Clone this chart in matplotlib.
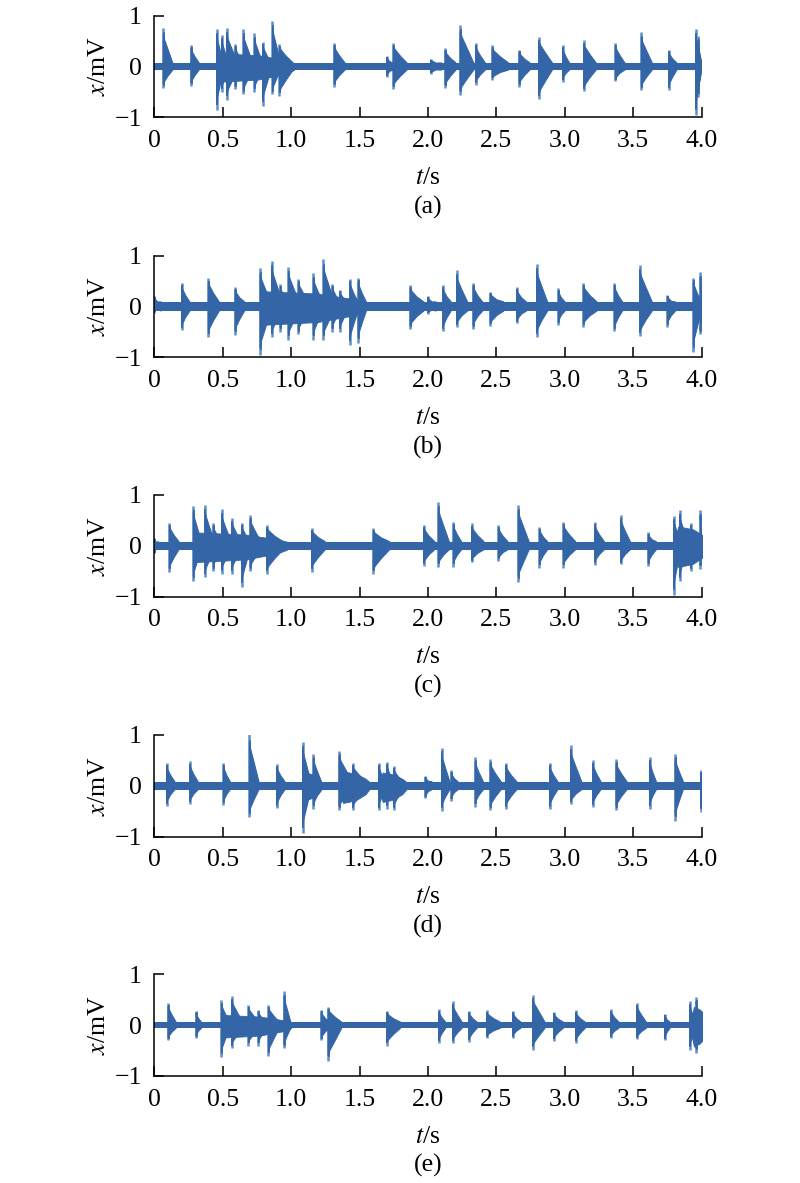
import matplotlib
matplotlib.use("Agg")
import matplotlib.pyplot as plt

plt.rcParams['font.family'] = ['Liberation Serif', 'DejaVu Serif']
plt.rcParams['mathtext.fontset'] = 'stix'

# burst onsets (s), peak top / bottom (mV), decay length (s)
a_t = [0.065, 0.268, 0.456, 0.493, 0.529, 0.59, 0.651, 0.732, 0.793, 0.864, 0.915,
       1.314, 1.70, 1.747, 2.02, 2.125, 2.235, 2.35, 2.47, 2.666, 2.81, 2.985,
       3.14, 3.37, 3.56, 3.76, 3.957, 3.975]
a_top = [0.75, 0.42, 0.73, 0.62, 0.75, 0.45, 0.73, 0.65, 0.49, 0.90, 0.45,
         0.47, 0.20, 0.47, 0.15, 0.36, 0.82, 0.46, 0.42, 0.33, 0.59, 0.42,
         0.52, 0.47, 0.67, 0.33, 0.73, 0.60]
a_bot = [-0.42, -0.39, -0.85, -0.50, -0.65, -0.45, -0.55, -0.50, -0.77, -0.55, -0.59,
         -0.40, -0.20, -0.44, -0.15, -0.43, -0.56, -0.36, -0.26, -0.40, -0.64, -0.30,
         -0.49, -0.29, -0.46, -0.46, -0.95, -0.60]
a_dur = [0.07, 0.06, 0.05, 0.05, 0.08, 0.06, 0.07, 0.06, 0.06, 0.06, 0.10,
         0.08, 0.05, 0.10, 0.08, 0.08, 0.10, 0.07, 0.12, 0.08, 0.10, 0.05,
         0.09, 0.07, 0.08, 0.06, 0.045, 0.025]

b_t = [0.0, 0.20, 0.395, 0.59, 0.773, 0.858, 0.92, 0.98, 1.053, 1.162, 1.236, 1.30,
       1.357, 1.43, 1.49, 1.87, 2.0, 2.11, 2.21, 2.33, 2.455, 2.65, 2.795, 2.953,
       3.136, 3.363, 3.55, 3.75, 3.94, 3.99]
b_top = [0.20, 0.47, 0.56, 0.38, 0.75, 0.90, 0.45, 0.78, 0.55, 0.65, 0.93, 0.45,
         0.33, 0.55, 0.57, 0.42, 0.20, 0.42, 0.71, 0.47, 0.29, 0.38, 0.84, 0.36,
         0.47, 0.47, 0.82, 0.23, 0.57, 0.67]
b_bot = [-0.12, -0.47, -0.60, -0.56, -0.95, -0.60, -0.50, -0.65, -0.55, -0.65, -0.65, -0.50,
         -0.50, -0.75, -0.72, -0.44, -0.15, -0.49, -0.40, -0.44, -0.39, -0.33, -0.60, -0.36,
         -0.40, -0.49, -0.59, -0.40, -0.90, -0.55]
b_dur = [0.05, 0.06, 0.08, 0.07, 0.08, 0.08, 0.06, 0.08, 0.08, 0.07, 0.08, 0.06,
         0.06, 0.06, 0.06, 0.10, 0.06, 0.06, 0.08, 0.07, 0.10, 0.07, 0.08, 0.05,
         0.10, 0.06, 0.09, 0.06, 0.06, 0.02]

c_t = [0.0, 0.11, 0.285, 0.37, 0.43, 0.492, 0.566, 0.64, 0.70, 0.822, 1.15, 1.60,
       1.97, 2.076, 2.186, 2.32, 2.515, 2.66, 2.815, 2.99, 3.22, 3.41, 3.61,
       3.797, 3.84, 3.92, 3.99]
c_top = [0.15, 0.45, 0.78, 0.80, 0.45, 0.72, 0.55, 0.45, 0.61, 0.41, 0.35, 0.34,
         0.41, 0.86, 0.47, 0.44, 0.41, 0.81, 0.37, 0.47, 0.47, 0.61, 0.26,
         0.59, 0.70, 0.45, 0.70]
c_bot = [-0.15, -0.52, -0.70, -0.62, -0.50, -0.55, -0.55, -0.82, -0.50, -0.56, -0.51, -0.56,
         -0.39, -0.41, -0.41, -0.33, -0.30, -0.72, -0.43, -0.43, -0.38, -0.37, -0.40,
         -0.97, -0.70, -0.50, -0.45]
c_dur = [0.03, 0.07, 0.06, 0.07, 0.06, 0.07, 0.07, 0.06, 0.08, 0.12, 0.10, 0.12,
         0.08, 0.08, 0.06, 0.09, 0.07, 0.08, 0.06, 0.09, 0.07, 0.07, 0.06,
         0.05, 0.06, 0.05, 0.02]

d_t = [0.09, 0.26, 0.505, 0.695, 0.895, 1.085, 1.162, 1.35, 1.45, 1.64, 1.70, 1.75,
       1.98, 2.10, 2.17, 2.345, 2.455, 2.57, 2.89, 3.044, 3.205, 3.375, 3.62,
       3.807, 3.995]
d_top = [0.45, 0.48, 0.45, 1.01, 0.43, 0.86, 0.63, 0.69, 0.45, 0.45, 0.47, 0.38,
         0.19, 0.75, 0.30, 0.56, 0.52, 0.45, 0.45, 0.80, 0.50, 0.52, 0.57,
         0.62, 0.30]
d_bot = [-0.40, -0.36, -0.38, -0.61, -0.44, -0.93, -0.45, -0.48, -0.48, -0.48, -0.45, -0.48,
         -0.25, -0.49, -0.30, -0.41, -0.48, -0.46, -0.46, -0.36, -0.42, -0.48, -0.45,
         -0.69, -0.51]
d_dur = [0.06, 0.06, 0.05, 0.07, 0.06, 0.06, 0.06, 0.10, 0.10, 0.05, 0.05, 0.07,
         0.05, 0.06, 0.05, 0.06, 0.08, 0.08, 0.06, 0.08, 0.06, 0.08, 0.05,
         0.06, 0.01]

e_t = [0.10, 0.305, 0.49, 0.566, 0.688, 0.76, 0.834, 0.948, 1.22, 1.27, 1.70,
       2.08, 2.18, 2.30, 2.43, 2.62, 2.766, 2.92, 3.08, 3.337, 3.527, 3.73,
       3.915, 3.96]
e_top = [0.44, 0.28, 0.49, 0.57, 0.40, 0.30, 0.40, 0.67, 0.30, 0.36, 0.28,
         0.31, 0.47, 0.28, 0.29, 0.28, 0.60, 0.26, 0.29, 0.32, 0.44, 0.23,
         0.47, 0.55]
e_bot = [-0.30, -0.25, -0.62, -0.45, -0.40, -0.40, -0.61, -0.45, -0.30, -0.70, -0.40,
         -0.35, -0.35, -0.33, -0.25, -0.25, -0.48, -0.31, -0.35, -0.25, -0.28, -0.30,
         -0.48, -0.54]
e_dur = [0.06, 0.04, 0.06, 0.08, 0.08, 0.06, 0.08, 0.05, 0.06, 0.10, 0.10,
         0.05, 0.07, 0.06, 0.10, 0.06, 0.09, 0.07, 0.07, 0.06, 0.07, 0.04,
         0.04, 0.04]

# dense stretches: start (s), end (s), body top / bottom (mV)
a_busy = [(0.45, 1.02, 0.26, -0.30)]
b_busy = [(0.77, 1.54, 0.30, -0.36)]
c_busy = [(0.285, 0.97, 0.26, -0.32), (3.80, 4.05, 0.38, -0.42)]
d_busy = [(1.08, 1.22, 0.26, -0.28), (1.35, 1.57, 0.28, -0.34), (1.64, 1.84, 0.26, -0.32)]
e_busy = [(0.49, 1.0, 0.20, -0.24), (3.915, 4.05, 0.36, -0.42)]

captions = ['(a)', '(b)', '(c)', '(d)', '(e)']
baseline = [0.07, 0.09, 0.08, 0.08, 0.06]
xticks = [0, 0.5, 1.0, 1.5, 2.0, 2.5, 3.0, 3.5, 4.0]
xticklabels = ['0', '0.5', '1.0', '1.5', '2.0', '2.5', '3.0', '3.5', '4.0']
yticks = [-1, 0, 1]
yticklabels = ['\u22121', '0', '1']

panels = [(a_t, a_top, a_bot, a_dur, a_busy), (b_t, b_top, b_bot, b_dur, b_busy),
          (c_t, c_top, c_bot, c_dur, c_busy), (d_t, d_top, d_bot, d_dur, d_busy),
          (e_t, e_top, e_bot, e_dur, e_busy)]

blue = '#3466a7'
light = '#5e90cb'
fs = 18.5

W, H = 800, 1183
fig = plt.figure(figsize=(W / 100, H / 100), dpi=100)
left_px, right_px = 154.3, 701.5
bottoms_px = [117.3, 357.3, 596.5, 836.5, 1076.0]
height_px = 101.6

for i, (ts, tops, bots, durs, busy) in enumerate(panels):
    ax = fig.add_axes([left_px / W, 1 - bottoms_px[i] / H,
                       (right_px - left_px) / W, height_px / H])
    base = baseline[i]
    ax.fill_between([0, 4], [-base, -base], [base, base], color=blue, lw=0, zorder=2)
    for t0, t1, up, lo in busy:
        span = t1 - t0
        xs = [t0, t0 + 0.03, t0 + 0.55 * span, t1 - 0.12 * span, t1]
        ax.fill_between(xs, [-base, lo, 0.85 * lo, 0.5 * lo, -base],
                        [base, up, 0.85 * up, 0.5 * up, base],
                        color=blue, lw=0.6, ec=blue, zorder=2)
    for t, top, bot, dur in zip(ts, tops, bots, durs):
        xs = [t, t, t + 0.15 * dur, t + 0.5 * dur, t + dur,
              t + dur, t + 0.5 * dur, t + 0.15 * dur, t, t]
        ys = [base, 0.85 * top, 0.7 * top, 0.45 * top, base,
              -base, 0.45 * bot, 0.7 * bot, 0.85 * bot, -base]
        ax.fill(xs, ys, color=blue, lw=0.8, ec=blue, zorder=2)
        ax.vlines(t, bot, top, color=light, lw=1.8, zorder=1)
        ax.vlines(t + 0.004, 0.9 * bot, 0.9 * top, color=blue, lw=1.2, zorder=2)

    ax.set_xlim(0, 4)
    ax.set_ylim(-1, 1)
    for s in ['top', 'right']:
        ax.spines[s].set_visible(False)
    for s in ['left', 'bottom']:
        ax.spines[s].set_linewidth(1.1)
    ax.set_xticks(xticks)
    ax.set_xticklabels(xticklabels)
    ax.set_yticks(yticks)
    ax.set_yticklabels(yticklabels)
    ax.tick_params(direction='in', length=7, width=1.1, labelsize=fs)
    ax.tick_params(axis='x', pad=9)
    ax.tick_params(axis='y', pad=9)
    ax.set_xlabel('$t$/s', fontsize=fs, va='top')
    ax.xaxis.set_label_coords(0.5, -0.49)
    ax.set_ylabel('$x$/mV', fontsize=fs)
    ax.yaxis.set_label_coords(-0.081, 0.5)
    ax.text(0.5, -0.885, captions[i], transform=ax.transAxes, ha='center',
            va='center', fontsize=fs)

fig.savefig('out.png', dpi=100)
